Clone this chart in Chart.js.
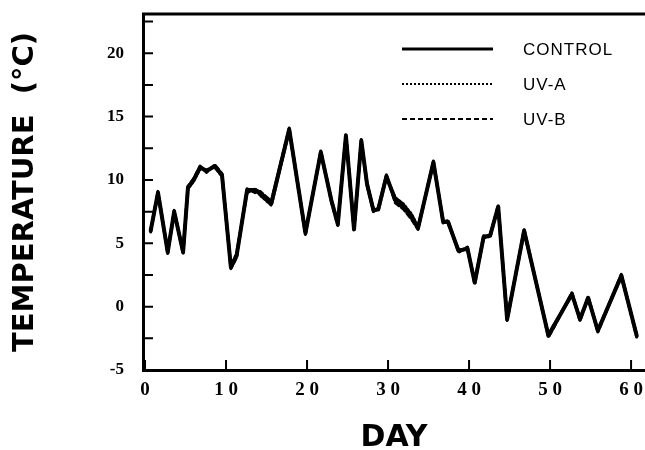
<!DOCTYPE html>
<html>
<head>
<meta charset="utf-8">
<script src="https://cdn.jsdelivr.net/npm/chart.js@4"></script>
<style>
  html, body { margin: 0; padding: 0; background: #fff; }
  #wrap { width: 645px; height: 450px; position: relative; }
</style>
</head>
<body>
<div id="wrap"><canvas id="tempChart"></canvas></div>
<script>
// Values (day, temperature in deg C)
const days = [0.7, 1.6, 2.8, 3.6, 4.7, 5.3, 6.0, 6.8, 7.6, 8.6, 9.5, 10.6, 11.3, 12.6, 13.6,
  14.2, 15.6, 17.8, 19.8, 21.7, 23.0, 23.8, 24.8, 25.8, 26.7, 27.4, 28.2, 28.8, 29.8, 30.9,
  31.9, 32.9, 33.7, 35.6, 36.8, 37.4, 38.7, 39.8, 40.7, 41.8, 42.6, 43.6, 44.7, 46.8, 49.8,
  50.4, 52.7, 53.7, 54.7, 55.9, 58.8, 60.7];
const controlTemps = [6.0, 9.0, 4.3, 7.5, 4.3, 9.4, 10.0, 11.0, 10.7, 11.1, 10.4, 3.1, 4.0, 9.2, 9.2,
  9.0, 8.2, 14.0, 5.8, 12.2, 8.4, 6.5, 13.5, 6.1, 13.1, 9.7, 7.6, 7.7, 10.3, 8.4,
  7.9, 7.1, 6.2, 11.4, 6.7, 6.7, 4.4, 4.6, 1.9, 5.5, 5.6, 7.9, -1.0, 6.0, -2.3,
  -1.6, 1.0, -1.0, 0.7, -1.9, 2.45, -2.3];
const uvaTemps = [6.1, 8.9, 4.4, 7.4, 4.4, 9.3, 9.9, 10.9, 10.8, 11.0, 10.3, 3.2, 4.2, 9.0, 9.3,
  8.8, 8.0, 13.9, 5.9, 12.1, 8.5, 6.6, 13.4, 6.2, 13.0, 9.8, 7.7, 7.6, 10.2, 8.6,
  8.1, 7.3, 6.3, 11.3, 6.8, 6.6, 4.5, 4.5, 2.0, 5.4, 5.7, 7.8, -0.9, 5.9, -2.2,
  -1.5, 0.9, -0.9, 0.6, -1.8, 2.35, -2.2];
const uvbTemps = [5.9, 9.1, 4.2, 7.6, 4.2, 9.5, 10.1, 11.1, 10.6, 11.2, 10.5, 3.0, 3.9, 9.3, 9.0,
  9.1, 8.3, 14.1, 5.7, 12.3, 8.3, 6.4, 13.6, 6.0, 13.2, 9.6, 7.5, 7.8, 10.4, 8.2,
  7.7, 6.9, 6.1, 11.5, 6.6, 6.8, 4.3, 4.7, 1.8, 5.6, 5.5, 8.0, -1.1, 6.1, -2.4,
  -1.7, 1.1, -1.1, 0.8, -2.0, 2.55, -2.4];

const seriesLabels = ['CONTROL', 'UV-A', 'UV-B'];
const xTickValues = [0, 10, 20, 30, 40, 50, 60];
const yTickValues = [-5, -2.5, 0, 2.5, 5, 7.5, 10, 12.5, 15, 17.5, 20, 22.5];

const toPoints = temps => temps.map((t, i) => ({ x: days[i], y: t }));

// frame line on top + inward tick marks + legend inside the plot
const framePlugin = {
  id: 'frame',
  afterDraw(chart) {
    const ctx = chart.ctx;
    const area = chart.chartArea;
    const xs = chart.scales.x;
    const ys = chart.scales.y;
    ctx.save();
    ctx.strokeStyle = '#000';
    ctx.lineWidth = 3;
    ctx.beginPath();
    ctx.moveTo(area.left - 1, area.top);
    ctx.lineTo(area.right, area.top);
    ctx.stroke();

    ctx.lineWidth = 2;
    ctx.beginPath();
    xTickValues.forEach(v => {
      const px = xs.getPixelForValue(v);
      ctx.moveTo(px, area.bottom);
      ctx.lineTo(px, area.bottom - 10);
    });
    yTickValues.forEach(v => {
      const py = ys.getPixelForValue(v);
      ctx.moveTo(area.left, py);
      ctx.lineTo(area.left + 10, py);
    });
    ctx.stroke();

    // legend
    ctx.font = '17px "Liberation Sans", Arial, sans-serif';
    ctx.letterSpacing = '1px';
    ctx.textBaseline = 'middle';
    ctx.fillStyle = '#000';
    chart.data.datasets.forEach((ds, i) => {
      const y = 49 + i * 35;
      ctx.lineWidth = i === 0 ? 3 : 2;
      ctx.setLineDash(ds.borderDash || []);
      ctx.beginPath();
      ctx.moveTo(402, y);
      ctx.lineTo(493, y);
      ctx.stroke();
      ctx.setLineDash([]);
      ctx.fillText(ds.label, 523, y + 1);
    });
    ctx.restore();
  }
};

const ctx = document.getElementById('tempChart').getContext('2d');
new Chart(ctx, {
  type: 'line',
  data: {
    datasets: [
      { label: seriesLabels[0], data: toPoints(controlTemps), borderColor: '#000', borderWidth: 4 },
      { label: seriesLabels[1], data: toPoints(uvaTemps), borderColor: '#000', borderWidth: 3, borderDash: [2, 2] },
      { label: seriesLabels[2], data: toPoints(uvbTemps), borderColor: '#000', borderWidth: 3, borderDash: [5, 3] }
    ]
  },
  options: {
    responsive: true,
    maintainAspectRatio: false,
    animation: false,
    layout: { padding: { top: 14, right: 0, bottom: 0, left: 0 } },
    elements: {
      point: { radius: 0 },
      line: { tension: 0, fill: false, borderCapStyle: 'round', borderJoinStyle: 'round' }
    },
    plugins: {
      legend: { display: false },
      tooltip: { enabled: false }
    },
    scales: {
      x: {
        type: 'linear',
        min: -0.25,
        max: 61.72,
        afterBuildTicks: scale => { scale.ticks = xTickValues.map(value => ({ value })); },
        afterFit: scale => {
          scale.height = 80;
          scale.paddingLeft = 0;
          scale.paddingRight = 0;
        },
        grid: { display: false, drawTicks: false },
        border: { display: true, color: '#000', width: 3 },
        ticks: {
          padding: 9,
          color: '#000',
          font: { family: '"Liberation Serif", "Times New Roman", serif', size: 19, weight: 'bold' },
          callback: v => String(v).split('').join(' ')
        },
        title: {
          display: true,
          text: 'DAY',
          color: '#000',
          font: { family: '"DejaVu Sans", Arial, sans-serif', size: 30, weight: 'bold', lineHeight: 0.8 },
          padding: { top: 0, bottom: 0 }
        }
      },
      y: {
        min: -5,
        max: 23.1,
        afterBuildTicks: scale => { scale.ticks = yTickValues.map(value => ({ value })); },
        afterFit: scale => {
          scale.width = 143;
          scale.paddingTop = 0;
          scale.paddingBottom = 0;
        },
        grid: { display: false, drawTicks: false },
        border: { display: true, color: '#000', width: 3 },
        ticks: {
          padding: 19,
          color: '#000',
          font: { family: '"Liberation Serif", "Times New Roman", serif', size: 17, weight: 'bold' },
          callback: v => (v % 5 === 0 ? String(v) : '')
        },
        title: {
          display: true,
          text: 'TEMPERATURE  (°C)',
          color: '#000',
          font: { family: '"DejaVu Sans", Arial, sans-serif', size: 29, weight: 'bold' },
          padding: { top: 8, bottom: 0 }
        }
      }
    }
  },
  plugins: [framePlugin]
});
</script>
</body>
</html>
